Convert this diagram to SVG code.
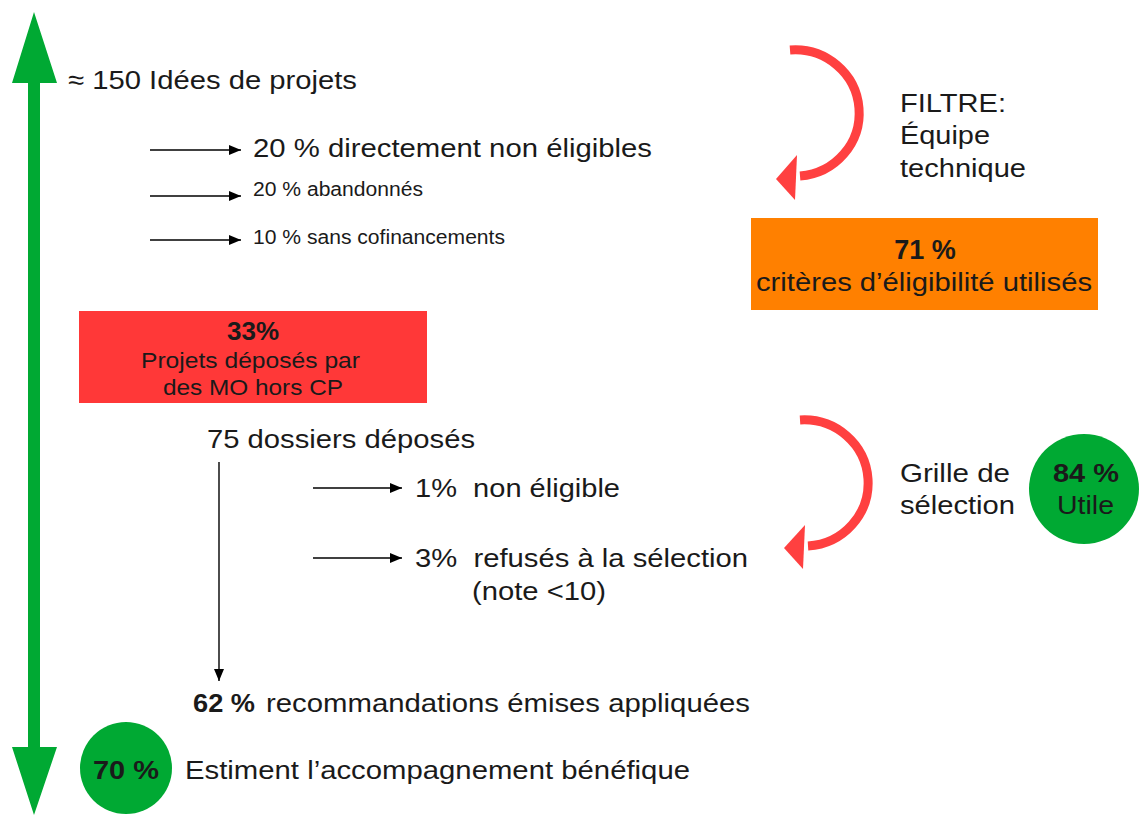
<svg xmlns="http://www.w3.org/2000/svg" width="1139" height="816" viewBox="0 0 1139 816">
<style>
text{font-family:"Liberation Sans",Arial,sans-serif;fill:#1a1a1a}
.m{font-size:26.5px}
.s{font-size:20px}
.b{font-weight:bold}
.c{text-anchor:middle}
.ln{stroke:#000;stroke-width:1.4;fill:none}
.arc{stroke:#ff4040;stroke-width:9;fill:none}
</style>
<defs>
<marker id="ah" viewBox="0 0 12 10" refX="12" refY="5" markerWidth="12" markerHeight="10" markerUnits="userSpaceOnUse" orient="auto">
<path d="M0,0 L12,5 L0,10 Z" fill="#000"/>
</marker>
</defs>
<rect width="1139" height="816" fill="#fff"/>

<g id="axis">
<polygon points="34,12 57,83 40,83 40,747 57,747 34,815 12,747 28,747 28,83 12,83" fill="#00a933"/>
</g>

<g id="connectors">
<line class="ln" x1="150" y1="150" x2="241" y2="150" marker-end="url(#ah)"/>
<line class="ln" x1="150" y1="196" x2="241" y2="196" marker-end="url(#ah)"/>
<line class="ln" x1="150" y1="240" x2="241" y2="240" marker-end="url(#ah)"/>
<line class="ln" x1="313" y1="488" x2="402" y2="488" marker-end="url(#ah)"/>
<line class="ln" x1="313" y1="558" x2="402" y2="558" marker-end="url(#ah)"/>
<line class="ln" x1="219" y1="462" x2="219" y2="681" marker-end="url(#ah)"/>
<path class="arc" d="M790 50 A64 63 0 0 1 800 176"/>
<polygon points="776,179 797,155 795,200" fill="#ff4040"/>
<path class="arc" d="M800 420 A64 63 0 0 1 808 546"/>
<polygon points="784,548 805,525 803,569" fill="#ff4040"/>
</g>

<g id="ideas">
<text class="m" x="68" y="89" textLength="289" lengthAdjust="spacingAndGlyphs">≈ 150 Idées de projets</text>
</g>
<g id="out1"><text class="m" x="253" y="157" textLength="399" lengthAdjust="spacingAndGlyphs">20 % directement non éligibles</text></g>
<g id="out2"><text class="s" x="253" y="196" textLength="170" lengthAdjust="spacingAndGlyphs">20 % abandonnés</text></g>
<g id="out3"><text class="s" x="253" y="244" textLength="252" lengthAdjust="spacingAndGlyphs">10 % sans cofinancements</text></g>

<g id="filtre">
<text class="m" x="900" y="112" textLength="106" lengthAdjust="spacingAndGlyphs">FILTRE:</text>
<text class="m" x="900" y="144" textLength="90" lengthAdjust="spacingAndGlyphs">Équipe</text>
<text class="m" x="900" y="177" textLength="126" lengthAdjust="spacingAndGlyphs">technique</text>
</g>

<g id="criteres">
<rect x="751" y="218" width="347" height="92" fill="#ff8000"/>
<text class="b c" x="925" y="259" font-size="27">71 %</text>
<text class="m" x="756" y="291" textLength="336" lengthAdjust="spacingAndGlyphs">critères d’éligibilité utilisés</text>
</g>

<g id="horscp">
<rect x="79" y="311" width="348" height="92" fill="#ff3838"/>
<text class="b c" x="253" y="340" font-size="26">33%</text>
<text x="141" y="368" font-size="22" textLength="219" lengthAdjust="spacingAndGlyphs">Projets déposés par</text>
<text x="163" y="395" font-size="22" textLength="180" lengthAdjust="spacingAndGlyphs">des MO hors CP</text>
</g>

<g id="dossiers">
<text class="m" x="207" y="448" textLength="268" lengthAdjust="spacingAndGlyphs">75 dossiers déposés</text>
</g>
<g id="noneligible"><text class="m" x="415" y="497" textLength="205" lengthAdjust="spacingAndGlyphs">1%&#160; non éligible</text></g>
<g id="refuses">
<text class="m" x="415" y="567" textLength="333" lengthAdjust="spacingAndGlyphs">3%&#160; refusés à la sélection</text>
<text class="m" x="472" y="600" textLength="134" lengthAdjust="spacingAndGlyphs">(note &lt;10)</text>
</g>

<g id="grille">
<text class="m" x="900" y="482" textLength="110" lengthAdjust="spacingAndGlyphs">Grille de</text>
<text class="m" x="900" y="514" textLength="115" lengthAdjust="spacingAndGlyphs">sélection</text>
</g>
<g id="utile">
<circle cx="1084" cy="489" r="55" fill="#00a933"/>
<text class="m b" x="1053" y="482" textLength="66" lengthAdjust="spacingAndGlyphs">84 %</text>
<text class="m" x="1057" y="514" textLength="57" lengthAdjust="spacingAndGlyphs">Utile</text>
</g>

<g id="recommandations">
<text class="m b" x="193" y="712" textLength="62" lengthAdjust="spacingAndGlyphs">62 %</text>
<text class="m" x="266" y="712" textLength="484" lengthAdjust="spacingAndGlyphs">recommandations émises appliquées</text>
</g>

<g id="benefique">
<circle cx="126" cy="768" r="46" fill="#00a933"/>
<text class="m b" x="93" y="779" textLength="66" lengthAdjust="spacingAndGlyphs">70 %</text>
<text class="m" x="185" y="779" textLength="505" lengthAdjust="spacingAndGlyphs">Estiment l’accompagnement bénéfique</text>
</g>
</svg>
